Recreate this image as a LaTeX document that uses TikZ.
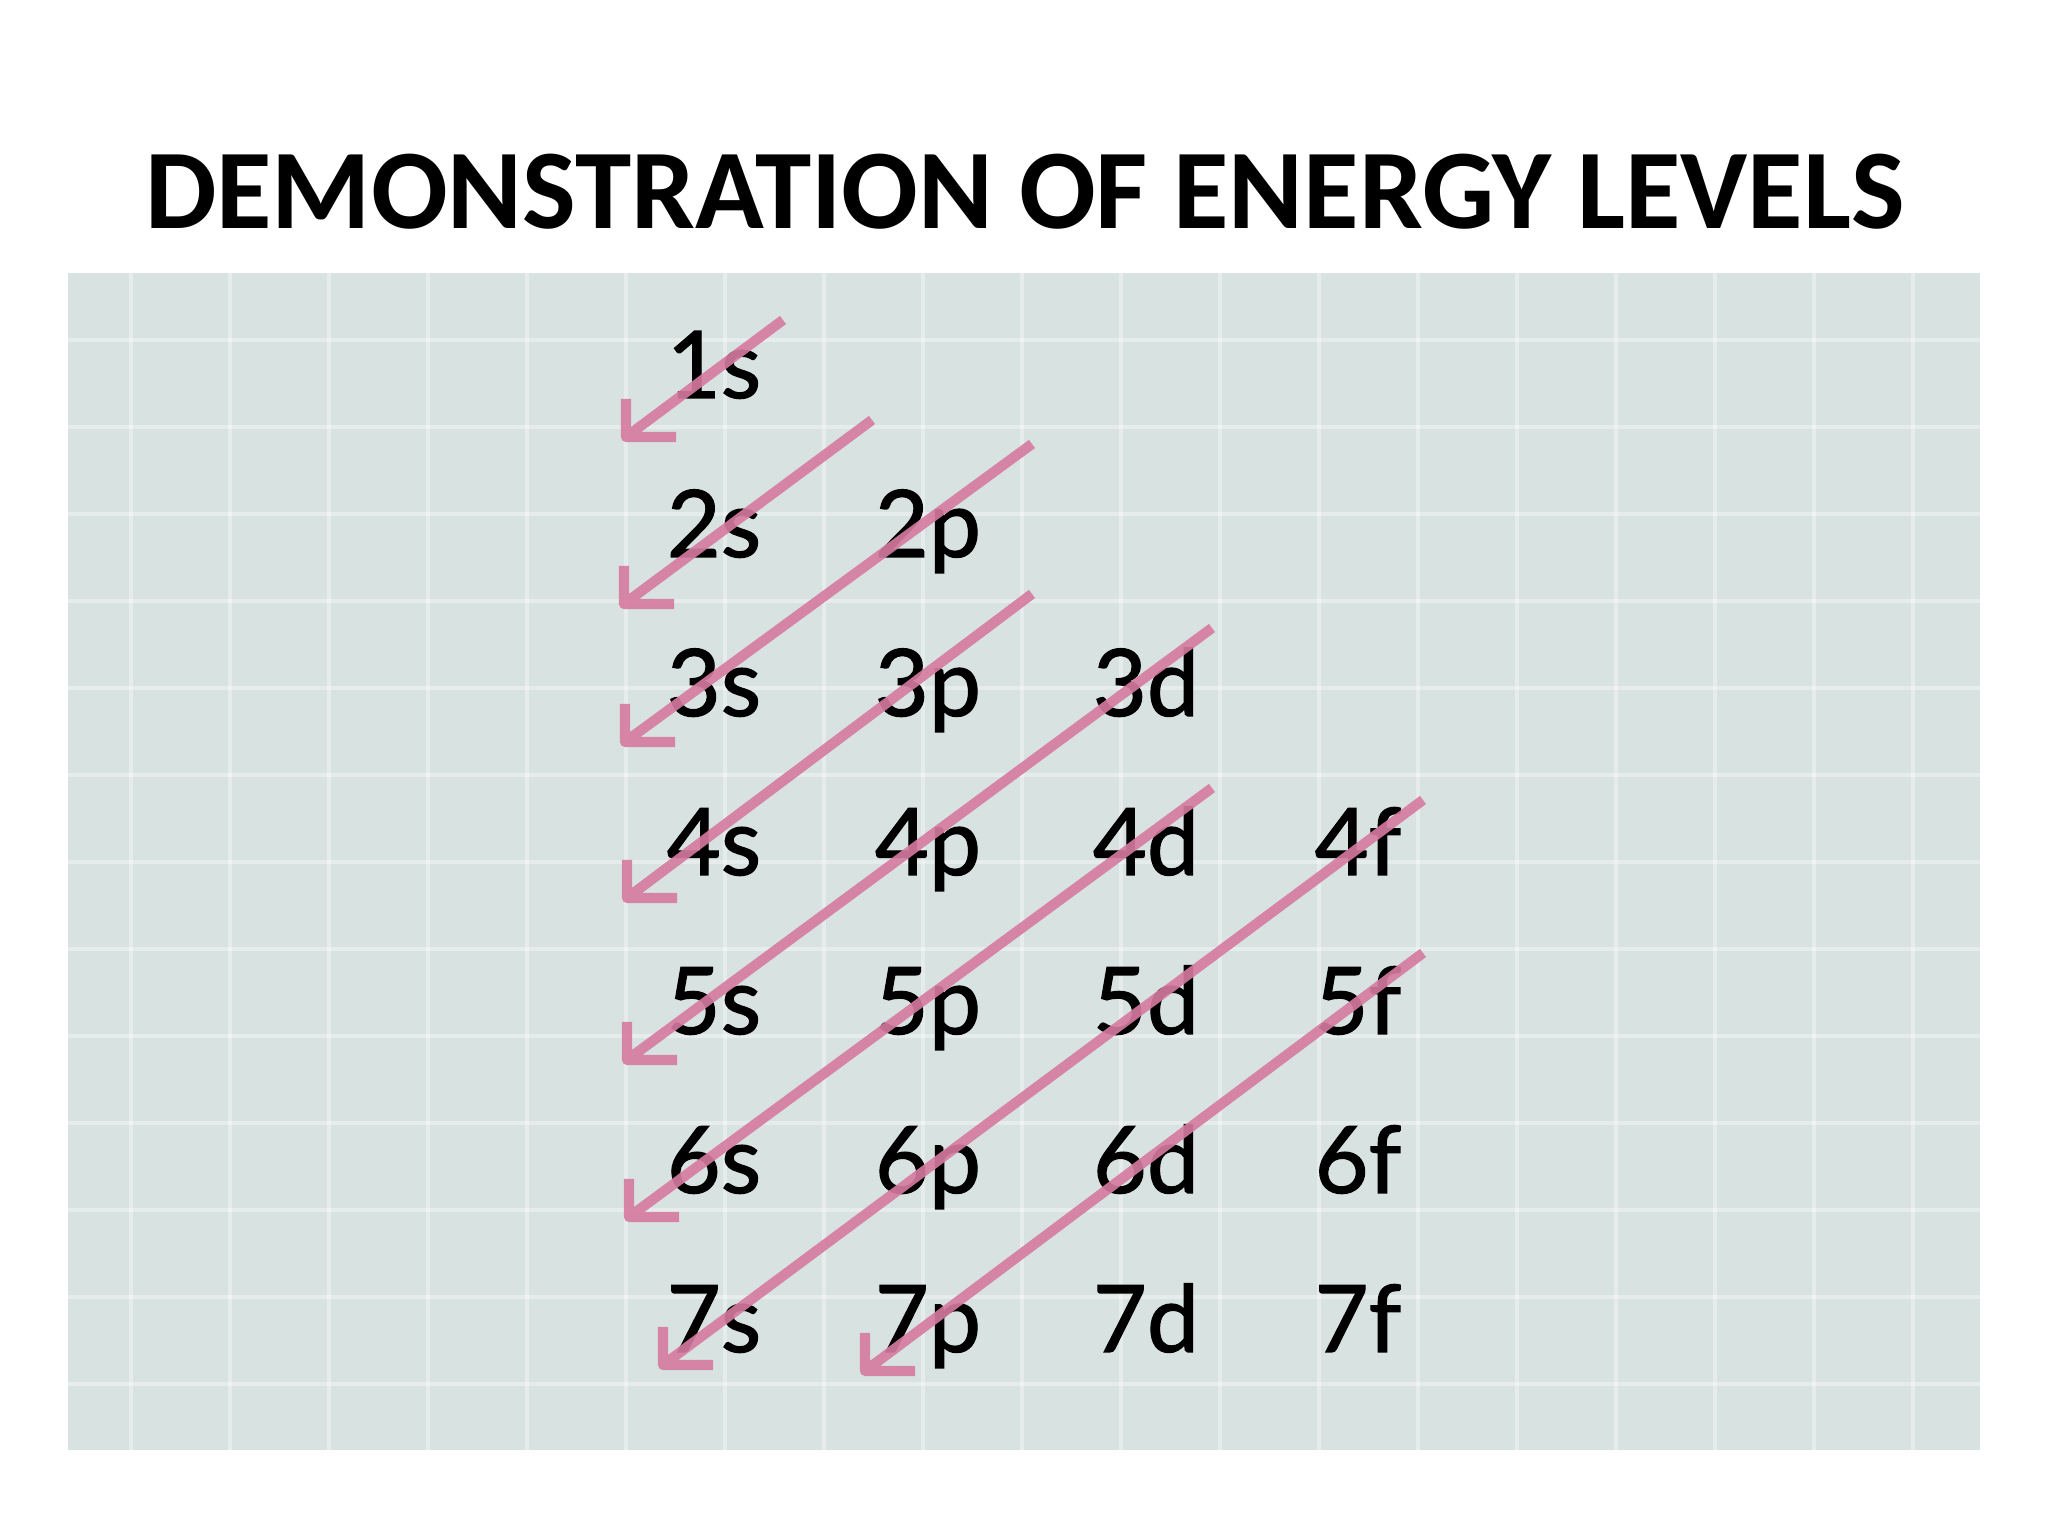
\documentclass[tikz,border=0pt]{standalone}
\usepackage{fontspec}
\setmainfont{Lato}
\newfontfamily\titlefont{Carlito}
\newfontfamily\orbfont[FakeBold=1.3]{Lato}

\definecolor{paper}{RGB}{216,226,225}
\definecolor{arrowpink}{RGB}{214,122,160}

\tikzset{
  orb/.style={anchor=base,inner sep=0pt,font=\orbfont\fontsize{26.5}{30}\selectfont},
  gridline/.style={white,opacity=.35,line width=1pt},
  orbarrow/.style={arrowpink,opacity=.9,line width=2.9pt,line join=round}
}

\begin{document}
\begin{tikzpicture}
	\useasboundingbox (0,0) rectangle (20.48,15.36);

	\node (title) at (10.25,13.07)[anchor=base] {\titlefont\bfseries\fontsize{32.3}{40}\selectfont DEMONSTRATION OF ENERGY LEVELS};

	% the squared paper
	\fill[paper] (0.68,0.86) rectangle (19.80,12.63);
	\foreach \x in {1.31,2.30,...,19.7}
	    \draw[gridline] (\x,0.86) -- (\x,12.63);
	\foreach \y in {11.96,11.09,...,0.9}
	    \draw[gridline] (0.68,\y) -- (19.80,\y);

	% orbitals, one row per shell
	\foreach \n in {1,...,7}{
	    \pgfmathsetmacro\yb{11.38-1.59*(\n-1)}
	    \node[orb] (s\n) at (7.14,\yb) {\n s};
	    \ifnum\n>1 \node[orb] (p\n) at (9.28,\yb) {\n p}; \fi
	    \ifnum\n>2 \node[orb] (d\n) at (11.46,\yb) {\n d}; \fi
	    \ifnum\n>3 \node[orb] (f\n) at (13.58,\yb) {\n f}; \fi
	}

	% filling order
	\coordinate (A1) at (7.83,12.16);  \coordinate (B1) at (6.26,10.99);
	\coordinate (A2) at (8.72,11.16);  \coordinate (B2) at (6.24,9.32);
	\coordinate (A3) at (10.32,10.92); \coordinate (B3) at (6.25,7.94);
	\coordinate (A4) at (10.32,9.42);  \coordinate (B4) at (6.27,6.38);
	\coordinate (A5) at (12.12,9.08);  \coordinate (B5) at (6.27,4.76);
	\coordinate (A6) at (12.12,7.48);  \coordinate (B6) at (6.29,3.19);
	\coordinate (A7) at (14.23,7.36);  \coordinate (B7) at (6.63,1.71);
	\coordinate (A8) at (14.23,5.83);  \coordinate (B8) at (8.65,1.65);

	\foreach \i in {1,...,8}
	    \draw[orbarrow] (A\i) -- (B\i) ++(0,0.38) -- (B\i) -- ++(0.5,0);

\end{tikzpicture}
\end{document}
